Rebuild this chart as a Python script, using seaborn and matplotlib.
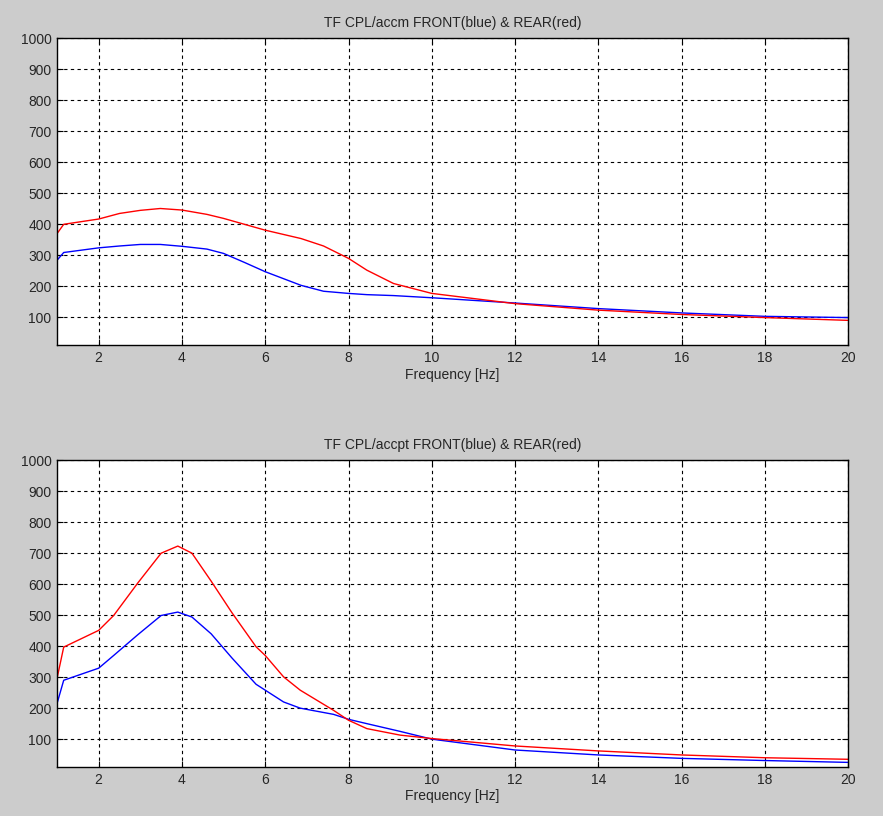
import pandas as pd
import seaborn as sns
import matplotlib
matplotlib.use('Agg')
import matplotlib.pyplot as plt

# top panel: TF CPL/accm
accm_x = [1.0, 1.16, 2.0, 2.5, 3.0, 3.48, 4.0, 4.6, 5.0, 5.5, 6.0, 6.86, 7.4, 8.0, 8.44,
          9.08, 10.0, 12.0, 14.0, 16.0, 18.0, 20.0]
accm_front = [284, 309, 324, 330, 335, 335, 329, 320, 306, 277, 247, 203, 184, 177, 173,
              170, 163, 146, 128, 114, 103, 99]
accm_rear = [370, 400, 417, 435, 445, 451, 446, 432, 419, 400, 381, 354, 330, 290, 252,
             209, 177, 144, 123, 109, 99, 90]

# bottom panel: TF CPL/accpt
accpt_x = [1.0, 1.16, 2.0, 2.36, 2.94, 3.5, 3.9, 4.24, 4.7, 5.2, 5.78, 6.0, 6.44, 6.84,
           7.64, 8.0, 8.44, 9.24, 10.0, 12.0, 14.0, 16.0, 18.0, 20.0]
accpt_front = [215, 290, 329, 370, 437, 499, 510, 494, 440, 362, 277, 258, 220, 200,
               180, 164, 150, 125, 100, 65, 49, 38, 31, 25]
accpt_rear = [296, 397, 451, 499, 604, 700, 723, 700, 610, 508, 398, 370, 301, 258,
              193, 161, 134, 113, 102, 78, 62, 49, 40, 35]

titles = ['TF CPL/accm FRONT(blue) & REAR(red)', 'TF CPL/accpt FRONT(blue) & REAR(red)']

sns.set_style('white')
plt.rcParams['font.family'] = ['Liberation Sans', 'DejaVu Sans']
plt.rcParams['font.size'] = 10

fig = plt.figure(figsize=(8.83, 8.16), dpi=100, facecolor='#cccccc')
ax1 = fig.add_axes([0.0646, 0.577, 0.896, 0.376])
ax2 = fig.add_axes([0.0646, 0.060, 0.896, 0.376])

panels = [(ax1, accm_x, accm_front, accm_rear), (ax2, accpt_x, accpt_front, accpt_rear)]
for i, (ax, x, front, rear) in enumerate(panels):
    df = pd.DataFrame({'f': x, 'front': front, 'rear': rear})
    sns.lineplot(data=df, x='f', y='front', ax=ax, color='#0000ff', linewidth=1)
    sns.lineplot(data=df, x='f', y='rear', ax=ax, color='#ff0000', linewidth=1)
    ax.set_facecolor('white')
    ax.set_xlim(1, 20)
    ax.set_ylim(10, 1000)
    ax.set_xticks(range(2, 21, 2))
    ax.set_yticks(range(100, 1001, 100))
    ax.grid(True, color='black', linestyle=(0, (3, 3)), linewidth=0.8)
    ax.tick_params(direction='in', length=4, color='black', labelsize=10,
                   top=True, right=True, bottom=True, left=True, pad=4)
    for s in ax.spines.values():
        s.set_color('black')
        s.set_linewidth(1)
    ax.set_title(titles[i], fontsize=10, pad=8)
    ax.set_xlabel('Frequency [Hz]', fontsize=10, labelpad=2)
    ax.set_ylabel('')

fig.savefig('out.png', dpi=100, facecolor=fig.get_facecolor())
